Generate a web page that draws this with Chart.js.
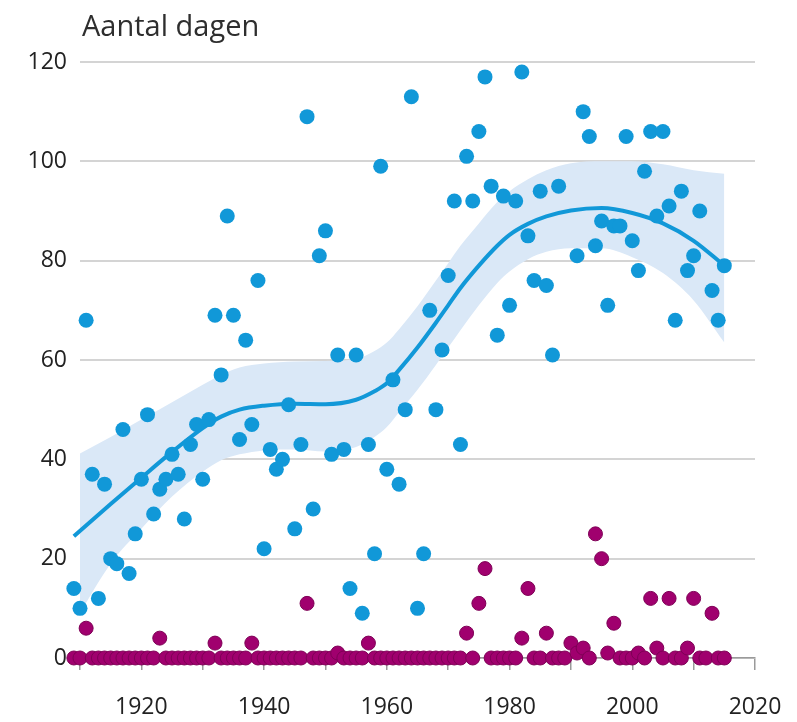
<!DOCTYPE html>
<html>
<head>
<meta charset="utf-8">
<script src="https://cdn.jsdelivr.net/npm/chart.js@4/dist/chart.umd.min.js"></script>
<style>
html, body { margin: 0; padding: 0; background: #ffffff; }
#wrap { position: relative; width: 797px; height: 722px; }
</style>
</head>
<body>
<div id="wrap"><canvas id="c" width="797" height="722"></canvas></div>
<script>
// ---- data ----
const titleText = 'Aantal dagen';
const xTickYears = [1910, 1920, 1930, 1940, 1950, 1960, 1970, 1980, 1990, 2000, 2010, 2020];
const xTickLabels = [1920, 1940, 1960, 1980, 2000, 2020];
const yTickLabels = [0, 20, 40, 60, 80, 100, 120];

// blue series (one dot per year)
const blueYears = [
  1909, 1910, 1911, 1912, 1913, 1914, 1915, 1916, 1917, 1918,
  1919, 1920, 1921, 1922, 1923, 1924, 1925, 1926, 1927, 1928,
  1929, 1930, 1931, 1932, 1933, 1934, 1935, 1936, 1937, 1938,
  1939, 1940, 1941, 1942, 1943, 1944, 1945, 1946, 1947, 1948,
  1949, 1950, 1951, 1952, 1953, 1954, 1955, 1956, 1957, 1958,
  1959, 1960, 1961, 1962, 1963, 1964, 1965, 1966, 1967, 1968,
  1969, 1970, 1971, 1972, 1973, 1974, 1975, 1976, 1977, 1978,
  1979, 1980, 1981, 1982, 1983, 1984, 1985, 1986, 1987, 1988,
  1991, 1992, 1993, 1994, 1995, 1996, 1997, 1998, 1999, 2000,
  2001, 2002, 2003, 2004, 2005, 2006, 2007, 2008, 2009, 2010,
  2011, 2013, 2014, 2015
];
const blueValues = [
  14, 10, 68, 37, 12, 35, 20, 19, 46, 17,
  25, 36, 49, 29, 34, 36, 41, 37, 28, 43,
  47, 36, 48, 69, 57, 89, 69, 44, 64, 47,
  76, 22, 42, 38, 40, 51, 26, 43, 109, 30,
  81, 86, 41, 61, 42, 14, 61, 9, 43, 21,
  99, 38, 56, 35, 50, 113, 10, 21, 70, 50,
  62, 77, 92, 43, 101, 92, 106, 117, 95, 65,
  93, 71, 92, 118, 85, 76, 94, 75, 61, 95,
  81, 110, 105, 83, 88, 71, 87, 87, 105, 84,
  78, 98, 106, 89, 106, 91, 68, 94, 78, 81,
  90, 74, 68, 79
];

// magenta series (one dot per year, mostly zero)
const magentaYears = [
  1909, 1910, 1911, 1912, 1913, 1914, 1915, 1916, 1917, 1918,
  1919, 1920, 1921, 1922, 1923, 1924, 1925, 1926, 1927, 1928,
  1929, 1930, 1931, 1932, 1933, 1934, 1935, 1936, 1937, 1938,
  1939, 1940, 1941, 1942, 1943, 1944, 1945, 1946, 1947, 1948,
  1949, 1950, 1951, 1952, 1953, 1954, 1955, 1956, 1957, 1958,
  1959, 1960, 1961, 1962, 1963, 1964, 1965, 1966, 1967, 1968,
  1969, 1970, 1971, 1972, 1973, 1974, 1975, 1976, 1977, 1978,
  1979, 1980, 1981, 1982, 1983, 1984, 1985, 1986, 1987, 1988,
  1989, 1990, 1991, 1992, 1993, 1994, 1995, 1996, 1997, 1998,
  1999, 2000, 2001, 2002, 2003, 2004, 2005, 2006, 2007, 2008,
  2009, 2010, 2011, 2012, 2013, 2014, 2015
];
const magentaValues = [
  0, 0, 6, 0, 0, 0, 0, 0, 0, 0,
  0, 0, 0, 0, 4, 0, 0, 0, 0, 0,
  0, 0, 0, 3, 0, 0, 0, 0, 0, 3,
  0, 0, 0, 0, 0, 0, 0, 0, 11, 0,
  0, 0, 0, 1, 0, 0, 0, 0, 3, 0,
  0, 0, 0, 0, 0, 0, 0, 0, 0, 0,
  0, 0, 0, 0, 5, 0, 11, 18, 0, 0,
  0, 0, 0, 4, 14, 0, 0, 5, 0, 0,
  0, 3, 1, 2, 0, 25, 20, 1, 7, 0,
  0, 0, 1, 0, 12, 2, 0, 12, 0, 0,
  2, 12, 0, 0, 9, 0, 0
];

// smoothed trend with its uncertainty band
const trendYears = [1909, 1915, 1920, 1925, 1930, 1933, 1936, 1940, 1945, 1950, 1955, 1958, 1960, 1962, 1965, 1968, 1970, 1972, 1975, 1978, 1980, 1983, 1986, 1990, 1995, 2000, 2005, 2010, 2015];
const trendValues = [24.5, 31, 36.3, 41.5, 46.3, 48.6, 50, 50.8, 51.2, 51.1, 52, 53.7, 55.3, 58, 62.5, 67.5, 71, 74.5, 79, 83, 85.2, 87.4, 88.9, 90.1, 90.6, 89.6, 87.5, 84, 79];
const bandLow    = [7, 19, 26, 32.5, 37.5, 39.8, 41, 41.8, 42, 41.6, 42.5, 44.5, 46.5, 49.5, 54, 59, 62.5, 66, 71, 75.5, 77.8, 80.3, 81.8, 82.5, 82.5, 80.7, 77.5, 72, 63.5];
const bandHigh   = [40.5, 44.5, 48, 51.5, 55, 57, 58.5, 59.3, 59.7, 59.8, 60.2, 61.8, 63.5, 66.2, 70.8, 76, 79.5, 83, 87.5, 91.8, 94, 96.4, 98.2, 99.6, 100, 100, 99.4, 98.2, 97.5];

// ---- chart ----
const pts = (xs, ys) => xs.map((x, i) => ({ x: x, y: ys[i] }));
const FONT = '"Open Sans", "DejaVu Sans", sans-serif';

const titlePlugin = {
  id: 'titleText',
  afterDraw(chart) {
    const ctx = chart.ctx;
    ctx.save();
    ctx.font = '29px ' + FONT;
    ctx.fillStyle = '#2e2e2e';
    ctx.textBaseline = 'alphabetic';
    ctx.textAlign = 'left';
    ctx.fillText(titleText, 82, 36);
    ctx.restore();
  }
};

new Chart(document.getElementById('c'), {
  type: 'scatter',
  data: {
    datasets: [
      {
        label: 'magenta',
        data: pts(magentaYears, magentaValues),
        backgroundColor: '#a0006e',
        borderColor: '#7e0056',
        borderWidth: 1,
        pointRadius: 7,
        clip: false
      },
      {
        label: 'blue',
        data: pts(blueYears, blueValues),
        backgroundColor: '#1198d8',
        borderColor: '#1198d8',
        borderWidth: 0,
        pointRadius: 7.5,
        clip: false
      },
      {
        label: 'trend',
        type: 'line',
        data: pts(trendYears, trendValues),
        borderColor: '#1198d8',
        borderWidth: 4,
        pointRadius: 0,
        cubicInterpolationMode: 'monotone',
        fill: false,
        clip: false
      },
      {
        label: 'upper',
        type: 'line',
        data: pts(trendYears, bandHigh),
        borderColor: 'rgba(0,0,0,0)',
        borderWidth: 1,
        pointRadius: 0,
        cubicInterpolationMode: 'monotone',
        backgroundColor: '#dae8f7',
        fill: '+1',
        clip: false
      },
      {
        label: 'lower',
        type: 'line',
        data: pts(trendYears, bandLow),
        borderColor: 'rgba(0,0,0,0)',
        borderWidth: 1,
        pointRadius: 0,
        cubicInterpolationMode: 'monotone',
        fill: false,
        clip: false
      }
    ]
  },
  options: {
    responsive: false,
    animation: false,
    devicePixelRatio: 1,
    layout: { padding: { top: 62, right: 42, left: 0, bottom: 0 } },
    plugins: { legend: { display: false }, tooltip: { enabled: false } },
    scales: {
      x: {
        type: 'linear',
        min: 1910,
        max: 2020,
        afterBuildTicks(scale) { scale.ticks = xTickYears.map(v => ({ value: v })); },
        afterFit(scale) { scale.height = 64; scale.paddingLeft = 0; scale.paddingRight = 0; },
        ticks: {
          autoSkip: false,
          maxRotation: 0,
          minRotation: 0,
          padding: 24,
          color: '#222222',
          font: { size: 23, family: FONT },
          callback: (v) => (xTickLabels.includes(v) ? String(v) : '')
        },
        grid: { drawOnChartArea: false, drawTicks: true, tickLength: 12, color: '#9a9a9a', lineWidth: 1.5 },
        border: { display: true, color: '#9a9a9a', width: 1.5 }
      },
      y: {
        min: 0,
        max: 120,
        afterBuildTicks(scale) { scale.ticks = yTickLabels.map(v => ({ value: v })); },
        afterFit(scale) { scale.width = 80; scale.paddingTop = 0; scale.paddingBottom = 0; },
        ticks: {
          padding: 13,
          color: '#222222',
          font: { size: 23, family: FONT }
        },
        grid: { drawTicks: false, color: '#d4d4d4', lineWidth: 2 },
        border: { display: false }
      }
    }
  },
  plugins: [titlePlugin]
});
</script>
</body>
</html>
